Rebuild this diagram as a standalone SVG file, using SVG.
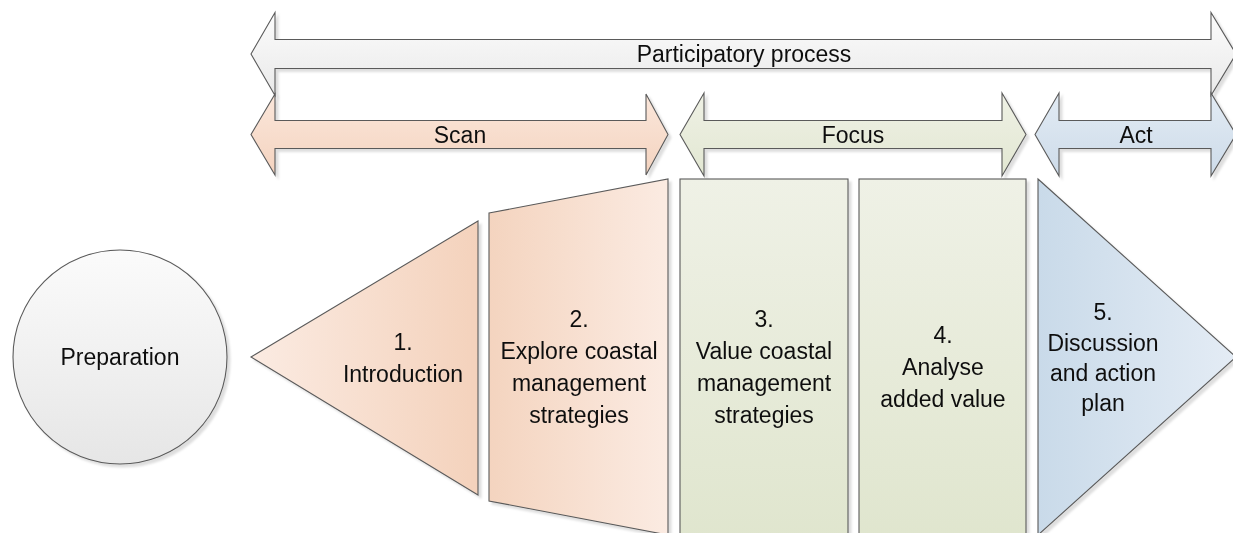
<svg xmlns="http://www.w3.org/2000/svg" width="1233" height="533" viewBox="0 0 1233 533">
  <style>
    .shape { stroke: #5a5a5a; stroke-width: 1.1; stroke-linejoin: miter; }
    .lbl { font-family: "Liberation Sans", Arial, sans-serif; font-size: 23px; fill: #111111; text-anchor: middle; }
  </style>
  <defs>
    <filter id="shadow" x="-5%" y="-5%" width="115%" height="115%">
      <feDropShadow dx="3" dy="3" stdDeviation="0.8" flood-color="#000000" flood-opacity="0.13"/>
    </filter>
    <linearGradient id="gPart" x1="0" y1="0" x2="0" y2="1">
      <stop offset="0" stop-color="#fcfcfc"/>
      <stop offset="1" stop-color="#e9e9e9"/>
    </linearGradient>
    <linearGradient id="gScan" x1="0" y1="0" x2="0" y2="1">
      <stop offset="0" stop-color="#fbe7db"/>
      <stop offset="1" stop-color="#f4d3bf"/>
    </linearGradient>
    <linearGradient id="gFocus" x1="0" y1="0" x2="0" y2="1">
      <stop offset="0" stop-color="#eff1e5"/>
      <stop offset="1" stop-color="#e2e7d2"/>
    </linearGradient>
    <linearGradient id="gAct" x1="0" y1="0" x2="0" y2="1">
      <stop offset="0" stop-color="#e2ebf4"/>
      <stop offset="1" stop-color="#cddbe9"/>
    </linearGradient>
    <linearGradient id="gT1" x1="0" y1="0" x2="1" y2="0">
      <stop offset="0" stop-color="#fbebe2"/>
      <stop offset="1" stop-color="#f4d2bc"/>
    </linearGradient>
    <linearGradient id="gT2" x1="0" y1="0" x2="1" y2="0">
      <stop offset="0" stop-color="#f4d4bf"/>
      <stop offset="1" stop-color="#fbebe2"/>
    </linearGradient>
    <linearGradient id="gR" x1="0" y1="0" x2="0" y2="1">
      <stop offset="0" stop-color="#eff1e6"/>
      <stop offset="1" stop-color="#dfe5cd"/>
    </linearGradient>
    <linearGradient id="gT5" x1="0" y1="0" x2="1" y2="0">
      <stop offset="0" stop-color="#c9dae9"/>
      <stop offset="1" stop-color="#e4ecf5"/>
    </linearGradient>
    <linearGradient id="gC" x1="0" y1="0" x2="0" y2="1">
      <stop offset="0" stop-color="#fbfbfb"/>
      <stop offset="1" stop-color="#e6e6e6"/>
    </linearGradient>
  </defs>

  <g id="connectors"></g>

  <g id="participatory" filter="url(#shadow)">
    <path class="shape" fill="url(#gPart)" d="M251,54 L275,12.5 L275,39.5 L1211,39.5 L1211,12.5 L1236,54 L1211,95.5 L1211,68.5 L275,68.5 L275,95.5 Z"/>
    <text class="lbl" x="744" y="62">Participatory process</text>
  </g>

  <g id="scan" filter="url(#shadow)">
    <path class="shape" fill="url(#gScan)" d="M251,134.5 L275,94 L275,120.5 L646,120.5 L646,94 L668,134.5 L646,175 L646,148.5 L275,148.5 L275,175 Z"/>
    <text class="lbl" x="460" y="143">Scan</text>
  </g>

  <g id="focus" filter="url(#shadow)">
    <path class="shape" fill="url(#gFocus)" d="M680,134.5 L704,93 L704,120.5 L1002,120.5 L1002,93 L1026,134.5 L1002,176 L1002,148.5 L704,148.5 L704,176 Z"/>
    <text class="lbl" x="853" y="143">Focus</text>
  </g>

  <g id="act" filter="url(#shadow)">
    <path class="shape" fill="url(#gAct)" d="M1035,134.5 L1059,93 L1059,120.5 L1211,120.5 L1211,93 L1236,134.5 L1211,176 L1211,148.5 L1059,148.5 L1059,176 Z"/>
    <text class="lbl" x="1136" y="143">Act</text>
  </g>

  <g id="preparation" filter="url(#shadow)">
    <circle class="shape" fill="url(#gC)" cx="120" cy="357" r="107"/>
    <text class="lbl" x="120" y="365">Preparation</text>
  </g>

  <g id="step1" filter="url(#shadow)">
    <polygon class="shape" fill="url(#gT1)" points="251,357 478,221 478,495"/>
    <text class="lbl" x="403" y="350">1.</text>
    <text class="lbl" x="403" y="382">Introduction</text>
  </g>

  <g id="step2" filter="url(#shadow)">
    <polygon class="shape" fill="url(#gT2)" points="489,213 668,179 668,535 489,501"/>
    <text class="lbl" x="579" y="327">2.</text>
    <text class="lbl" x="579" y="359">Explore coastal</text>
    <text class="lbl" x="579" y="391">management</text>
    <text class="lbl" x="579" y="423">strategies</text>
  </g>

  <g id="step3" filter="url(#shadow)">
    <rect class="shape" fill="url(#gR)" x="680" y="179" width="168" height="376"/>
    <text class="lbl" x="764" y="327">3.</text>
    <text class="lbl" x="764" y="359">Value coastal</text>
    <text class="lbl" x="764" y="391">management</text>
    <text class="lbl" x="764" y="423">strategies</text>
  </g>

  <g id="step4" filter="url(#shadow)">
    <rect class="shape" fill="url(#gR)" x="859" y="179" width="167" height="376"/>
    <text class="lbl" x="943" y="343">4.</text>
    <text class="lbl" x="943" y="375">Analyse</text>
    <text class="lbl" x="943" y="407">added value</text>
  </g>

  <g id="step5" filter="url(#shadow)">
    <polygon class="shape" fill="url(#gT5)" points="1038,179 1236,357 1038,535"/>
    <text class="lbl" x="1103" y="320">5.</text>
    <text class="lbl" x="1103" y="351">Discussion</text>
    <text class="lbl" x="1103" y="381">and action</text>
    <text class="lbl" x="1103" y="411">plan</text>
  </g>
</svg>
